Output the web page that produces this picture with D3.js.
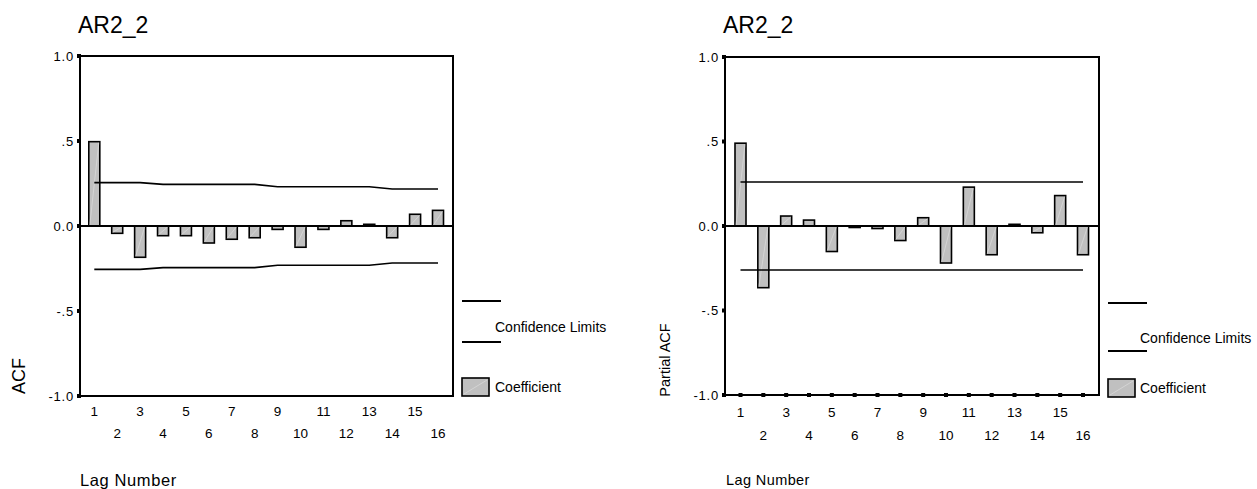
<!DOCTYPE html>
<html><head><meta charset="utf-8">
<script src="https://cdn.jsdelivr.net/npm/d3@7"></script>
<style>
body{margin:0;background:#fff;}
text{font-family:Arial,"Liberation Sans",sans-serif;fill:#000;}
</style></head>
<body><svg id="c" width="1257" height="489"></svg>
<script>
const lags = [1,2,3,4,5,6,7,8,9,10,11,12,13,14,15,16];
const acfValues = [0.496,-0.043,-0.184,-0.057,-0.057,-0.10,-0.078,-0.069,-0.02,-0.125,-0.02,0.031,0.01,-0.069,0.069,0.092];
const acfConfidence = [0.255,0.255,0.255,0.245,0.245,0.245,0.245,0.245,0.231,0.231,0.231,0.231,0.231,0.218,0.218,0.218];
const pacfValues = [0.49,-0.365,0.059,0.035,-0.151,-0.003,-0.015,-0.086,0.049,-0.219,0.23,-0.17,0.01,-0.04,0.18,-0.17];
const pacfConfidence = [0.26,0.26,0.26,0.26,0.26,0.26,0.26,0.26,0.26,0.26,0.26,0.26,0.26,0.26,0.26,0.26];
const yTicks = [1,0.5,0,-0.5,-1];
const yTickLabels = ["1.0",".5","0.0","-.5","-1.0"];
const titleText = "AR2_2";
const legendLabels = ["Confidence Limits","Coefficient"];

const svg = d3.select("#c");

function drawChart(o){
  const g = svg.append("g");
  const y = d3.scaleLinear().domain([-1,1]).range([o.bottom,o.top]);
  const x = d3.scaleLinear().domain([1,16]).range([o.x1,o.x16]);
  const bw = 11;
  g.append("text").attr("x",o.titleX).attr("y",33).attr("font-size",23).text(titleText);
  const bars = g.selectAll("g.bar").data(lags.map((l,i)=>({l,v:o.values[i]}))).enter().append("g");
  bars.append("rect")
    .attr("x",d=>x(d.l)-bw/2).attr("width",bw)
    .attr("y",d=>Math.min(y(d.v),y(0))).attr("height",d=>Math.max(1.5,Math.abs(y(d.v)-y(0))))
    .attr("fill","#c0c0c0").attr("stroke","#000").attr("stroke-width",1.6);
  bars.append("line")
    .attr("x1",d=>x(d.l)-bw/2+1).attr("x2",d=>x(d.l)+bw/2-1)
    .attr("y1",d=>d.v>=0?y(0)-1:y(d.v)-1).attr("y2",d=>d.v>=0?y(d.v)+1:y(0)+1)
    .attr("stroke","#e0e0e0").attr("stroke-width",0.6)
    .style("display",d=>Math.abs(y(d.v)-y(0))>6?null:"none");
  const line = d3.line().x((d,i)=>x(lags[i])).y(d=>y(d));
  g.append("path").attr("d",line(o.conf)).attr("fill","none").attr("stroke","#000").attr("stroke-width",1.6);
  g.append("path").attr("d",line(o.conf.map(v=>-v))).attr("fill","none").attr("stroke","#000").attr("stroke-width",1.6);
  g.append("line").attr("x1",o.left).attr("x2",o.right).attr("y1",y(0)).attr("y2",y(0)).attr("stroke","#000").attr("stroke-width",1.8);
  g.append("rect").attr("x",o.left).attr("y",o.top).attr("width",o.right-o.left).attr("height",o.bottom-o.top)
    .attr("fill","none").attr("stroke","#000").attr("stroke-width",2);
  yTicks.forEach((t,i)=>{
    g.append("rect").attr("x",o.left-3).attr("y",y(t)-2).attr("width",4).attr("height",4).attr("fill","#000");
    g.append("text").attr("x",o.left-6).attr("y",y(t)).attr("dy","0.35em").attr("text-anchor","end")
      .attr("font-size",13).attr("letter-spacing",0.8).text(yTickLabels[i]);
  });
  if(o.xTicks){
    lags.forEach(l=>{
      g.append("rect").attr("x",x(l)-2).attr("y",o.bottom-2).attr("width",4).attr("height",4).attr("fill","#000");
    });
  }
  lags.forEach(l=>{
    g.append("text").attr("x",x(l)).attr("y",l%2===1?o.oddY:o.evenY).attr("dy","0.35em")
      .attr("text-anchor","middle").attr("font-size",13.5).text(String(l));
  });
  g.append("text").attr("transform",`translate(${o.yLabelX},${o.yLabelY}) rotate(-90)`)
    .attr("text-anchor","middle").attr("font-size",o.yLabelSize).text(o.yLabel);
  g.append("text").attr("x",o.xLabelX).attr("y",o.xLabelY).attr("font-size",o.xLabelSize)
    .attr("letter-spacing",o.xLabelSpacing).text("Lag Number");
  const L = o.legend;
  g.append("line").attr("x1",L.x).attr("x2",L.x+39).attr("y1",L.l1).attr("y2",L.l1).attr("stroke","#000").attr("stroke-width",1.8);
  g.append("line").attr("x1",L.x).attr("x2",L.x+39).attr("y1",L.l2).attr("y2",L.l2).attr("stroke","#000").attr("stroke-width",1.8);
  g.append("text").attr("x",L.tx).attr("y",L.ct).attr("dy","0.35em").attr("font-size",14).text(legendLabels[0]);
  g.append("rect").attr("x",L.x).attr("y",L.by).attr("width",27).attr("height",18)
    .attr("fill","#c0c0c0").attr("stroke","#000").attr("stroke-width",1.6);
  g.append("line").attr("x1",L.x+2).attr("x2",L.x+25).attr("y1",L.by+16).attr("y2",L.by+2).attr("stroke","#e0e0e0").attr("stroke-width",0.6);
  g.append("text").attr("x",L.tx).attr("y",L.by+9).attr("dy","0.35em").attr("font-size",14).text(legendLabels[1]);
}

drawChart({values:acfValues,conf:acfConfidence,left:80,right:453,top:56,bottom:396,x1:94.3,x16:438,
  titleX:78,oddY:411,evenY:433,xTicks:false,yLabel:"ACF",yLabelX:25,yLabelY:376,yLabelSize:18,
  xLabelX:80,xLabelY:486,xLabelSize:16.5,xLabelSpacing:0.6,
  legend:{x:462,l1:301,l2:342,tx:495,ct:327,by:378}});
drawChart({values:pacfValues,conf:pacfConfidence,left:725,right:1099,top:57,bottom:395,x1:740.5,x16:1083,
  titleX:723,oddY:412,evenY:435,xTicks:true,yLabel:"Partial ACF",yLabelX:670,yLabelY:360,yLabelSize:14.5,
  xLabelX:726,xLabelY:485,xLabelSize:14.5,xLabelSpacing:0.4,
  legend:{x:1108,l1:303,l2:351,tx:1140,ct:338,by:379}});
</script></body></html>
